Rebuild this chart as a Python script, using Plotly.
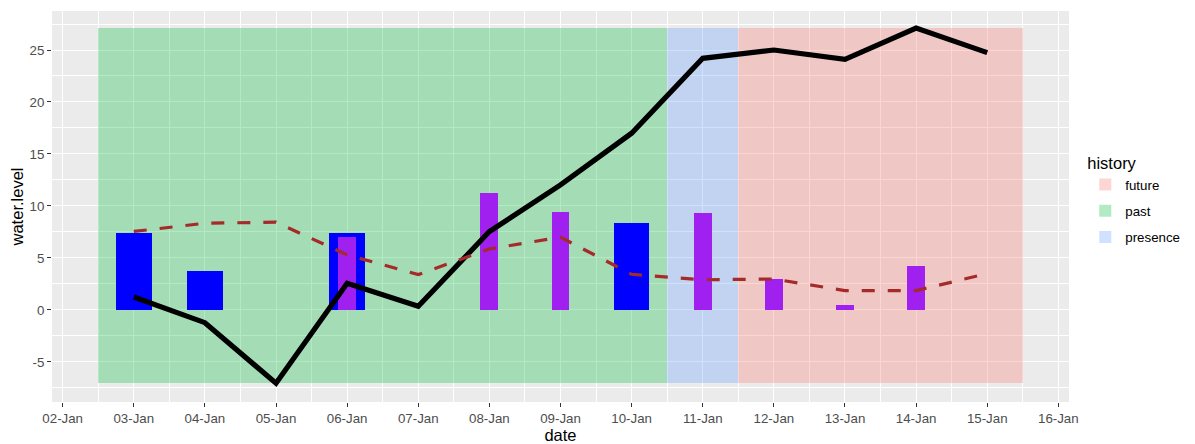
import pandas as pd
import plotly.graph_objects as go

# ---- data ----
dates = ["2020-01-03", "2020-01-04", "2020-01-05", "2020-01-06", "2020-01-07",
         "2020-01-08", "2020-01-09", "2020-01-10", "2020-01-11", "2020-01-12",
         "2020-01-13", "2020-01-14", "2020-01-15"]
history = ["past"] * 8 + ["presence"] + ["future"] * 4
water_level = [1.25, -1.22, -7.05, 2.57, 0.35, 7.54, 12.03, 17.0, 24.2, 25.0, 24.1, 27.1, 24.75]
trend_level = [7.55, 8.34, 8.44, 5.3, 3.4, 5.87, 7.0, 3.43, 2.9, 2.98, 1.86, 1.86, 3.5]
bars_blue = [7.38, 3.75, None, 7.38, None, None, None, 8.34, None, None, None, None, None]
bars_purple = [None, None, None, 7.06, None, 11.23, 9.46, None, 9.37, 2.95, 0.48, 4.23, None]
history_levels = ["future", "past", "presence"]
history_colors = ["#F8766D", "#00BA38", "#619CFF"]
y_ticks = [-5, 0, 5, 10, 15, 20, 25]
y_tick_labels = ["-5", "0", "5", "10", "15", "20", "25"]

df = pd.DataFrame({"date": pd.to_datetime(dates), "history": history,
                   "level": water_level})
DAY = 86400000
ymin, ymax = df["level"].min(), df["level"].max()

fig = go.Figure()

# history rectangles (as bars spanning each period)
for lvl, col in zip(history_levels, history_colors):
    sub = df[df["history"] == lvl]
    start = sub["date"].min() - pd.Timedelta(hours=12)
    end = sub["date"].max() + pd.Timedelta(hours=12)
    center = start + (end - start) / 2
    r, g, b = int(col[1:3], 16), int(col[3:5], 16), int(col[5:7], 16)
    fig.add_trace(go.Bar(
        x=[center], y=[ymax - ymin], base=[ymin],
        width=[(end - start).total_seconds() * 1000],
        marker=dict(color=f"rgba({r},{g},{b},0.3)", line=dict(width=0)),
        name=lvl, legendgroup=lvl, showlegend=True, hoverinfo="skip"))

fig.add_trace(go.Bar(x=df["date"], y=bars_blue, width=0.5 * DAY,
                     marker=dict(color="#0000FF", line=dict(width=0)),
                     showlegend=False))
fig.add_trace(go.Bar(x=df["date"], y=bars_purple, width=0.25 * DAY,
                     marker=dict(color="#A020F0", line=dict(width=0)),
                     showlegend=False))
fig.add_trace(go.Scatter(x=df["date"], y=water_level, mode="lines",
                         line=dict(color="black", width=5.2),
                         showlegend=False))
fig.add_trace(go.Scatter(x=df["date"], y=trend_level, mode="lines",
                         line=dict(color="#A52A2A", width=3.2, dash="13px,13px"),
                         showlegend=False))

tick_font = dict(family="Liberation Sans, Arial", size=13.3, color="#4D4D4D")
title_font = dict(family="Liberation Sans, Arial", size=16.5, color="black")

# page body has an 8px margin: figure is sized/margined to compensate
fig.update_layout(
    template="none",
    width=1187, height=436,
    margin=dict(l=44, r=126, t=3, b=42, autoexpand=False),
    paper_bgcolor="white", plot_bgcolor="#EBEBEB",
    barmode="overlay", bargap=0,
    font=dict(family="Liberation Sans, Arial"),
    legend=dict(title=dict(text="history", font=title_font),
                font=dict(family="Liberation Sans, Arial", size=13.3, color="black"),
                x=1.016, y=0.65, xanchor="left", yanchor="top",
                bgcolor="white", traceorder="grouped", tracegroupgap=6),
    xaxis=dict(type="date",
               range=["2020-01-01 20:24", "2020-01-16 03:36"],
               tickformat="%d-%b", dtick=DAY, tick0="2020-01-02",
               ticks="outside", ticklen=4, tickwidth=1, tickcolor="#333333",
               tickfont=tick_font, showgrid=True, gridcolor="white", gridwidth=1.1,
               minor=dict(showgrid=True, dtick=DAY, tick0="2020-01-02 12:00",
                          gridcolor="white", gridwidth=0.55),
               zeroline=False, showline=False, automargin=False,
               title=dict(text="date", font=title_font, standoff=11)),
    yaxis=dict(range=[-8.85, 28.75], tickmode="array", tickvals=y_ticks,
               ticktext=y_tick_labels,
               ticks="outside", ticklen=4, tickwidth=1, tickcolor="#333333",
               tickfont=tick_font, showgrid=True, gridcolor="white", gridwidth=1.1,
               minor=dict(showgrid=True, tickvals=[-7.5, -2.5, 2.5, 7.5, 12.5, 17.5, 22.5, 27.5],
                          gridcolor="white", gridwidth=0.55),
               zeroline=False, showline=False, automargin=False,
               title=dict(text="water.level", font=title_font, standoff=1)),
)

fig.write_html("out.html")
